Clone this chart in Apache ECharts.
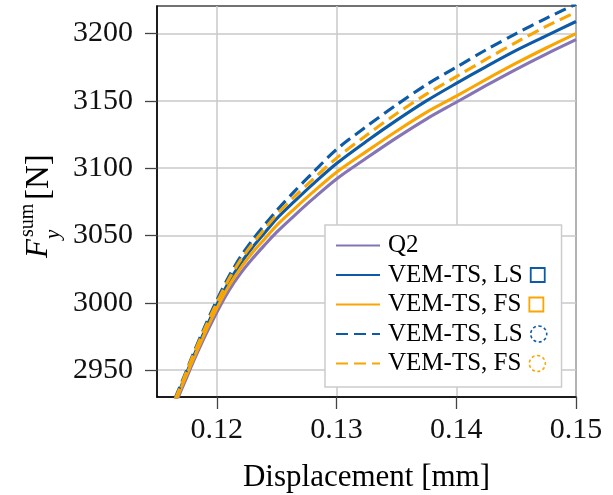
<!DOCTYPE html>
<html><head><meta charset="utf-8">
<script src="https://cdn.jsdelivr.net/npm/echarts@6/dist/echarts.min.js"></script>
<style>html,body{margin:0;padding:0;background:#fff}#c{width:613px;height:495px}</style>
</head><body><div id="c"></div>
<script>
// Displacement values [mm]
const xValues = [0.1165, 0.117, 0.1175, 0.118, 0.119, 0.12, 0.121, 0.122, 0.123, 0.124, 0.125, 0.1265, 0.128, 0.13, 0.1325, 0.135, 0.1375, 0.14, 0.1425, 0.145, 0.1475, 0.15];
// F_y^sum [N]
const q2       = [2924, 2934.5, 2945, 2955.5, 2975, 2993, 3009, 3022, 3033, 3043, 3052.5, 3065, 3077, 3092, 3107.5, 3122.5, 3136.5, 3149, 3161.5, 3173.5, 3184.8, 3195.5];
const lsSolid  = [2927, 2937.5, 2948.5, 2959, 2979.5, 2998.5, 3015.5, 3029.5, 3041.5, 3052, 3062.5, 3075.5, 3088, 3103.5, 3120, 3135.5, 3150, 3163, 3175.5, 3187.5, 3198.3, 3209];
const fsSolid  = [2926, 2936.5, 2947, 2957.5, 2977.5, 2996, 3012.5, 3026, 3037.5, 3047.5, 3057.5, 3070, 3082, 3097, 3112.5, 3127.5, 3141.5, 3153.5, 3166, 3178, 3189.3, 3200];
const lsDashed = [2929, 2939.5, 2950.5, 2961.5, 2982.5, 3002, 3019.5, 3034.5, 3047, 3058, 3068.5, 3083, 3096.5, 3114, 3131, 3147, 3162, 3175, 3188, 3200, 3211.3, 3222];
const fsDashed = [2928, 2938.5, 2949.5, 2960.5, 2981, 3000, 3017.5, 3032, 3044, 3055, 3065.5, 3079, 3091.5, 3107.5, 3124.5, 3140.5, 3155, 3168, 3181, 3193.5, 3205.3, 3216];

const xTicks = [0.12, 0.13, 0.14, 0.15];
const yTicks = [2950, 3000, 3050, 3100, 3150, 3200];
const seriesKeys = ['q2', 'lsSolid', 'fsSolid', 'lsDashed', 'fsDashed'];
const seriesLabels = ['Q2', 'VEM-TS, LS', 'VEM-TS, FS', 'VEM-TS, LS', 'VEM-TS, FS'];
const seriesMarkers = ['', 'sqB', 'sqO', 'ciB', 'ciO'];

const BLUE = '#0d5aa6', ORANGE = '#f9a602', PURPLE = '#8574b6';
const FONT = '"Liberation Serif", "Times New Roman", serif';

function pairs(ys) { return xValues.map((x, i) => [x, ys[i]]); }

const styles = [
  { color: PURPLE, type: 'solid' },
  { color: BLUE, type: 'solid' },
  { color: ORANGE, type: 'solid' },
  { color: BLUE, type: [12, 6] },
  { color: ORANGE, type: [12, 6] }
];
const dataSets = [q2, lsSolid, fsSolid, lsDashed, fsDashed];

const chart = echarts.init(document.getElementById('c'), null, { renderer: 'canvas' });
chart.setOption({
  animation: false,
  backgroundColor: '#fff',
  grid: { left: 157, right: 37, top: 6, bottom: 98, show: true, borderColor: '#444', borderWidth: 1.5, containLabel: false, outerBoundsMode: 'none' },
  xAxis: {
    type: 'value', min: 0.115, max: 0.15,
    name: 'Displacement [mm]', nameLocation: 'middle', nameGap: 65,
    nameTextStyle: { fontFamily: FONT, fontSize: 31, color: '#000' },
    axisLine: { show: true, lineStyle: { color: '#000', width: 1.5 } },
    axisTick: { show: true, customValues: xTicks, length: 12, inside: false, lineStyle: { color: '#444', width: 1.3 } },
    axisLabel: { customValues: xTicks, fontFamily: FONT, fontSize: 30, color: '#111', margin: 18, formatter: v => v.toFixed(2) },
    splitLine: { show: true, lineStyle: { color: '#c8c8c8', width: 1.5 } }
  },
  yAxis: {
    type: 'value', min: 2930, max: 3220.5,
    axisLine: { show: true, lineStyle: { color: '#000', width: 1.5 } },
    axisTick: { show: true, customValues: yTicks, length: 12, inside: false, lineStyle: { color: '#444', width: 1.3 } },
    axisLabel: { customValues: yTicks, fontFamily: FONT, fontSize: 30, color: '#111', margin: 24, formatter: v => String(v) },
    splitLine: { show: true, lineStyle: { color: '#c8c8c8', width: 1.5 } }
  },
  legend: {
    orient: 'vertical', left: 325, top: 225,
    backgroundColor: '#fff', borderColor: '#cccccc', borderWidth: 1.5, borderRadius: 0,
    padding: [8, 14, 11, 10], itemGap: 4.5, itemWidth: 44, itemHeight: 14,
    itemStyle: { opacity: 0 },
    data: seriesKeys,
    formatter: function (name) {
      const i = seriesKeys.indexOf(name);
      const m = seriesMarkers[i];
      return '{t|' + seriesLabels[i] + '}' + (m ? '{g| }{' + m + '| }' : '');
    },
    textStyle: {
      rich: {
        t: { fontFamily: FONT, fontSize: 25, color: '#000', lineHeight: 25.5, padding: [0, 0, 0, 3] },
        g: { width: 8, fontSize: 10 },
        sqB: { width: 14, height: 14, borderColor: BLUE, borderWidth: 1.8, fontSize: 4 },
        sqO: { width: 14, height: 14, borderColor: ORANGE, borderWidth: 1.8, fontSize: 4 },
        ciB: { width: 16, height: 16, borderRadius: 9, borderColor: BLUE, borderWidth: 1.6, borderType: [3, 2.5], fontSize: 4 },
        ciO: { width: 16, height: 16, borderRadius: 9, borderColor: ORANGE, borderWidth: 1.6, borderType: [3, 2.5], fontSize: 4 }
      }
    }
  },
  series: dataSets.map((d, i) => ({
    type: 'line', name: seriesKeys[i], data: pairs(d),
    symbol: 'none', smooth: 0.3, clip: true,
    lineStyle: { color: styles[i].color, width: 3.1, type: styles[i].type },
    itemStyle: { color: styles[i].color },
    z: 2 + i
  })),
  graphic: [{
    type: 'group', x: 50, y: 258, rotation: Math.PI / 2,
    children: [
      { type: 'text', x: 0, y: -11, style: { text: 'F', font: 'italic 31px "Liberation Serif"', fill: '#000', verticalAlign: 'middle', align: 'left' } },
      { type: 'text', x: 21, y: -22, style: { text: 'sum', font: '20px "Liberation Serif"', fill: '#000', verticalAlign: 'middle', align: 'left' } },
      { type: 'text', x: 19, y: 3, style: { text: 'y', font: 'italic 21px "Liberation Serif"', fill: '#000', verticalAlign: 'middle', align: 'left' } },
      { type: 'text', x: 58, y: -11, style: { text: '[N]', font: '33px "Liberation Serif"', fill: '#000', verticalAlign: 'middle', align: 'left' } }
    ]
  }]
});
</script>
</body></html>
